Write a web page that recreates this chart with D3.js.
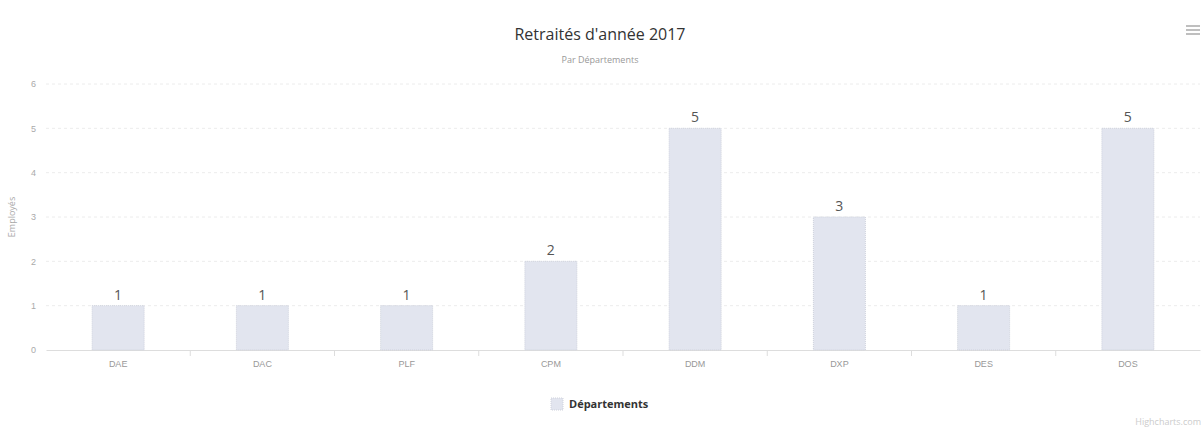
<!DOCTYPE html>
<html lang="fr">
<head>
<meta charset="UTF-8">
<title>Retraités d'année 2017</title>
<style>
    body { margin: 0; background: #fff; }
    svg { display: block; font-family: "Open Sans", "DejaVu Sans", sans-serif; }
</style>
</head>
<body>
<svg width="1201" height="430"></svg>
<script src="https://cdn.jsdelivr.net/npm/d3@7"></script>
<script>
    // données
    const categories = ['DAE', 'DAC', 'PLF', 'CPM', 'DDM', 'DXP', 'DES', 'DOS'];
    const values = [1, 1, 1, 2, 5, 3, 1, 5];
    const yTicks = [0, 1, 2, 3, 4, 5, 6];
    const seriesName = 'Départements';

    const svg = d3.select('svg');
    const plotLeft = 46, plotRight = 1200, plotTop = 84, plotBottom = 350;

    const x = d3.scaleBand().domain(categories).range([plotLeft, plotRight]);
    const y = d3.scaleLinear().domain([0, 6]).range([plotBottom, plotTop]);

    // titre + sous-titre
    svg.append('text').attr('x', 600).attr('y', 40).attr('text-anchor', 'middle')
        .attr('font-size', 16).attr('fill', '#333').text("Retraités d'année 2017");
    svg.append('text').attr('x', 600).attr('y', 63).attr('text-anchor', 'middle')
        .attr('font-size', 9).attr('fill', '#999').text('Par Départements');

    // grille
    svg.append('g').selectAll('line').data(yTicks.filter(d => d > 0)).enter().append('line')
        .attr('x1', plotLeft).attr('x2', plotRight)
        .attr('y1', d => y(d)).attr('y2', d => y(d))
        .attr('stroke', '#ececec').attr('stroke-dasharray', '3,3');

    // axe Y
    const axisY = d3.axisLeft(y).tickValues(yTicks).tickFormat(d3.format('d')).tickSize(0).tickPadding(0);
    const gy = svg.append('g').attr('transform', 'translate(36,0)').call(axisY);
    gy.select('.domain').remove();
    gy.selectAll('text').attr('font-size', 9).attr('fill', '#aaa').attr('font-family', 'inherit');

    svg.append('text').attr('transform', 'translate(15,' + (plotTop + plotBottom) / 2 + ') rotate(-90)')
        .attr('text-anchor', 'middle').attr('font-size', 9).attr('fill', '#aaa').text('Employés');

    // axe X
    const axisX = d3.axisBottom(x).tickSize(0).tickPadding(11);
    const gx = svg.append('g').attr('transform', 'translate(0,' + plotBottom + ')').call(axisX);
    gx.select('.domain').attr('stroke', '#ddd');
    gx.selectAll('text').attr('font-size', 9).attr('fill', '#999').attr('font-family', 'inherit');
    gx.selectAll('.sep').data(categories.slice(1)).enter().append('line')
        .attr('x1', d => x(d)).attr('x2', d => x(d)).attr('y1', 0).attr('y2', 6)
        .attr('stroke', '#ddd');

    // barres
    const bw = 52;
    const gs = svg.append('g').selectAll('g').data(values).enter().append('g');
    gs.append('rect')
        .attr('x', (d, i) => x(categories[i]) + x.bandwidth() / 2 - bw / 2)
        .attr('y', d => y(d))
        .attr('width', bw)
        .attr('height', d => y(0) - y(d))
        .attr('fill', '#e2e5ef')
        .attr('stroke', '#cfd2dc')
        .attr('stroke-dasharray', '1,1');
    gs.append('text')
        .attr('x', (d, i) => x(categories[i]) + x.bandwidth() / 2)
        .attr('y', d => y(d) - 6)
        .attr('text-anchor', 'middle')
        .attr('font-size', 14).attr('fill', '#555')
        .text(d => d);

    // légende
    const lg = svg.append('g').attr('transform', 'translate(551,398)');
    lg.append('rect').attr('width', 12).attr('height', 12).attr('fill', '#e2e5ef')
        .attr('stroke', '#cfd2dc').attr('stroke-dasharray', '1,1');
    lg.append('text').attr('x', 18).attr('y', 10).attr('font-size', 11).attr('font-weight', 'bold')
        .attr('fill', '#333').text(seriesName);

    // menu
    const menu = svg.append('g').attr('transform', 'translate(1186,26)');
    [0, 4, 8].forEach(dy => menu.append('line').attr('x1', 0).attr('x2', 14)
        .attr('y1', dy).attr('y2', dy).attr('stroke', '#aaa').attr('stroke-width', 1.5));

    // crédits
    svg.append('text').attr('x', 1201).attr('y', 425).attr('text-anchor', 'end')
        .attr('font-size', 9).attr('fill', '#ccc').text('Highcharts.com');
</script>
</body>
</html>
